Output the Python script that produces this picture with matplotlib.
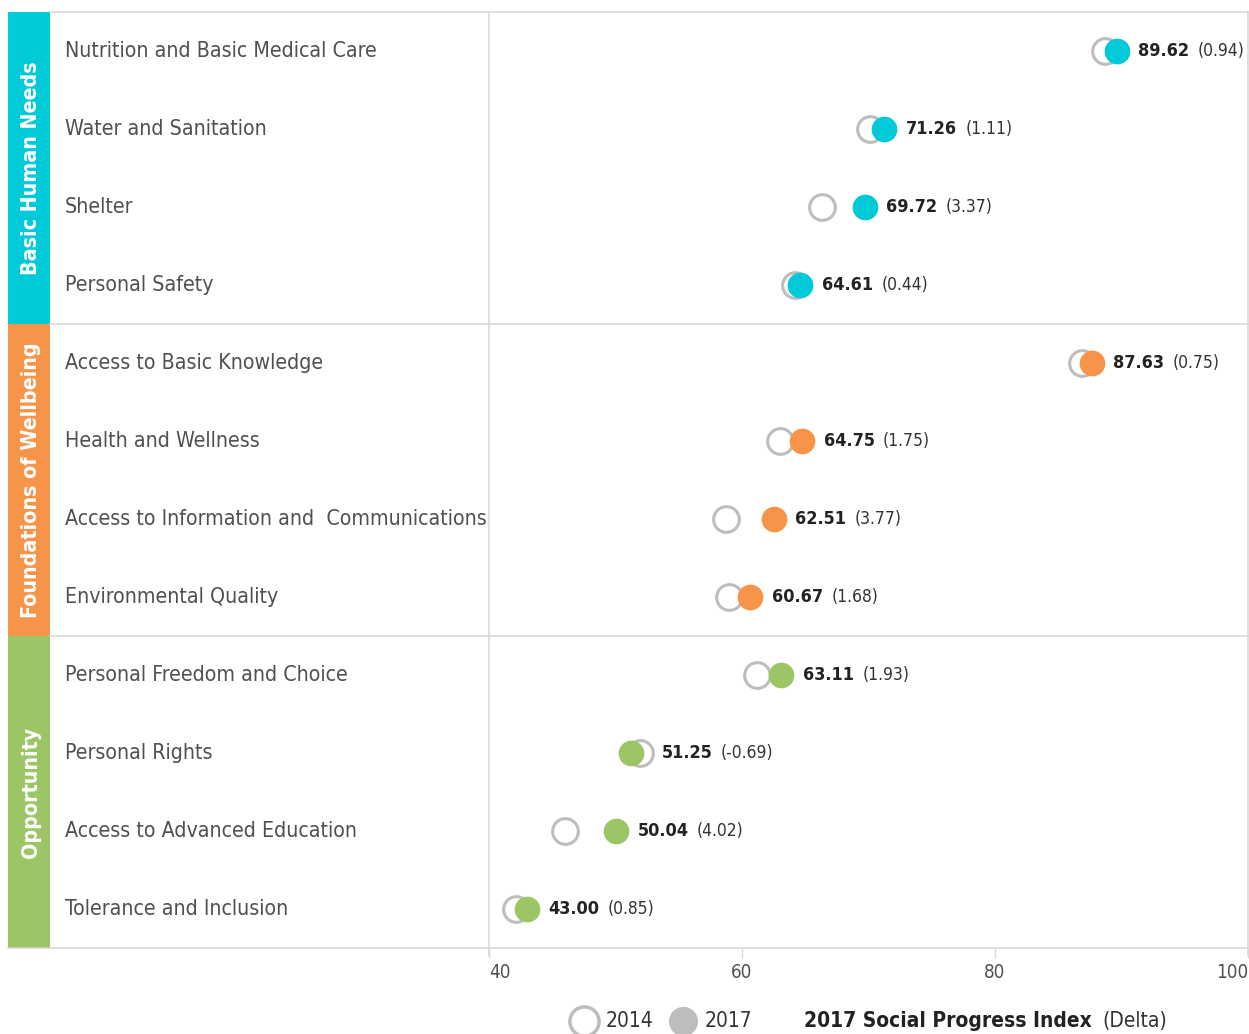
import matplotlib
matplotlib.use('Agg')
import matplotlib.pyplot as plt
from matplotlib.patches import Rectangle
from matplotlib.lines import Line2D
import numpy as np

plt.rcParams['font.family'] = ['DejaVu Sans']
plt.rcParams['font.stretch'] = 'condensed'

categories = ['Nutrition and Basic Medical Care', 'Water and Sanitation', 'Shelter',
              'Personal Safety', 'Access to Basic Knowledge', 'Health and Wellness',
              'Access to Information and  Communications', 'Environmental Quality',
              'Personal Freedom and Choice', 'Personal Rights',
              'Access to Advanced Education', 'Tolerance and Inclusion']
score_2017 = [89.62, 71.26, 69.72, 64.61, 87.63, 64.75, 62.51, 60.67, 63.11, 51.25, 50.04, 43.00]
delta = [0.94, 1.11, 3.37, 0.44, 0.75, 1.75, 3.77, 1.68, 1.93, -0.69, 4.02, 0.85]
score_2014 = [s - d for s, d in zip(score_2017, delta)]

groups = ['Basic Human Needs', 'Foundations of Wellbeing', 'Opportunity']
group_colors = ['#00C9D8', '#F7944A', '#9CC566']
group_size = 4

W, H = 1249, 1034
grid_c = '#D9D9D9'
label_c = '#505050'

fig = plt.figure(figsize=(W / 100, H / 100), dpi=100)

def fx(px):
    return px / W

def fy(py):
    return 1 - py / H

# main dot axes
ax = fig.add_axes([fx(489), fy(948), fx(1248 - 489), (948 - 12) / H])
n = len(categories)
ax.set_xlim(40, 100)
ax.set_ylim(n - 0.5, -0.5)
for s in ax.spines.values():
    s.set_visible(False)
ax.set_yticks([])
ax.set_xticks([40, 60, 80, 100])
ax.set_xticklabels(['40', '60', '80', '100'])
ax.tick_params(axis='x', length=7, width=1, color=grid_c, labelsize=13.5,
               labelcolor=label_c, pad=4)
tl = ax.get_xticklabels()
tl[0].set_ha('left')
tl[-1].set_ha('right')

y = np.arange(n)
for i in range(n):
    c = group_colors[i // group_size]
    ax.plot(score_2014[i], y[i], 'o', ms=18.5, mfc='white', mec='#BDBDBD', mew=2.2,
            zorder=3)
    ax.plot(score_2017[i], y[i], 'o', ms=18.5, mfc=c, mec=c, mew=0, zorder=4)
    xr = max(score_2014[i], score_2017[i])
    t = ax.annotate('%.2f' % score_2017[i], xy=(xr, y[i]), xytext=(15.5, 0),
                    textcoords='offset points', va='center', ha='left',
                    fontsize=13, fontweight='bold', color='#222222')
    ax.annotate('(%.2f)' % delta[i], xy=(1, 0.5), xycoords=t, xytext=(6, 0),
                textcoords='offset points', va='center', ha='left',
                fontsize=12.5, color='#333333')

# left label axes (pixel units)
lax = fig.add_axes([fx(0), fy(948), fx(489), (948 - 12) / H], sharey=ax)
lax.set_xlim(0, 489)
lax.axis('off')
for g in range(len(groups)):
    top = g * group_size - 0.5
    lax.add_patch(Rectangle((8, top), 42, group_size, color=group_colors[g],
                            lw=0, clip_on=False))
    lax.text(31, top + group_size / 2, groups[g], rotation=90, ha='center',
             va='center', color='white', fontsize=15.3, fontweight='bold')
for i in range(n):
    lax.text(65, y[i], categories[i], ha='left', va='center', fontsize=15.3,
             color=label_c)

# grid lines
for g in range(len(groups) + 1):
    x0 = 8 if g == len(groups) else 50
    fig.add_artist(Line2D([fx(x0), fx(1248)], [fy(12 + g * 312)] * 2,
                          color=grid_c, lw=1.2))
fig.add_artist(Line2D([fx(489)] * 2, [fy(12), fy(955)], color=grid_c, lw=1.2))
fig.add_artist(Line2D([fx(1248)] * 2, [fy(12), fy(955)], color=grid_c, lw=1.2))

# legend
ly = fy(1021)
fig.add_artist(Line2D([fx(584)], [ly], marker='o', ms=21, mfc='white',
                      mec='#BDBDBD', mew=2.5))
fig.text(fx(606), ly, '2014', ha='left', va='center', fontsize=15, color='#333333')
fig.add_artist(Line2D([fx(683)], [ly], marker='o', ms=21, mfc='#BDBDBD',
                      mec='#BDBDBD', mew=0))
fig.text(fx(705), ly, '2017', ha='left', va='center', fontsize=15, color='#333333')
lt = fig.text(fx(804), ly, '2017 Social Progress Index', ha='left', va='center',
              fontsize=15, fontweight='bold', color='#222222')
fig.add_artist(plt.Annotation('(Delta)', xy=(1, 0.5), xycoords=lt, xytext=(8, 0),
                              textcoords='offset points', va='center', ha='left',
                              fontsize=15, color='#333333'))

fig.savefig('out.png', dpi=100)
